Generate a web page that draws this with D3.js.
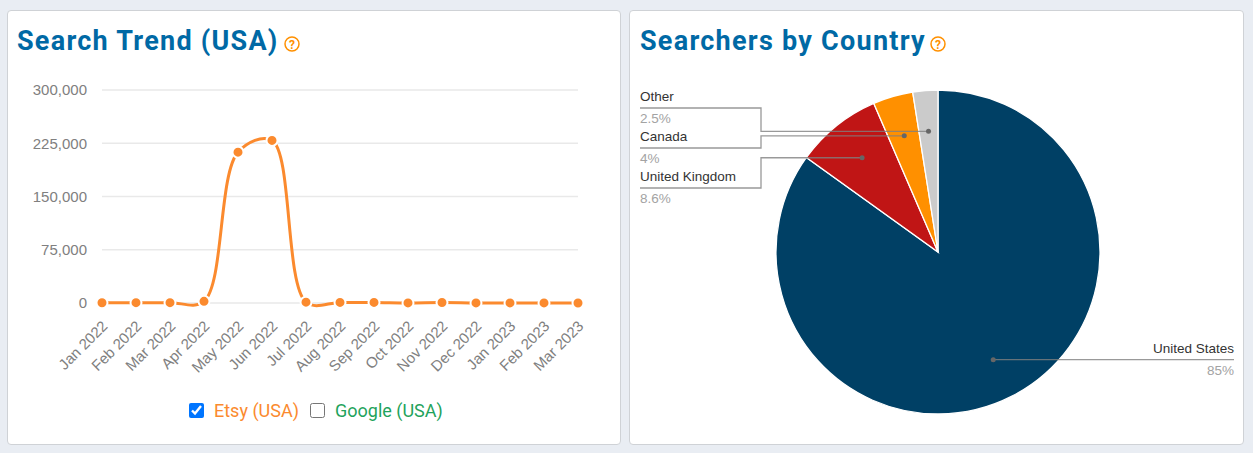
<!DOCTYPE html>
<html>
<head>
<meta charset="utf-8">
<script src="https://cdn.jsdelivr.net/npm/d3@7"></script>
<style>
  html, body { margin: 0; padding: 0; background: #e9edf3; overflow: hidden; }
  #stage { position: relative; width: 1253px; height: 453px; }
  .card { position: absolute; top: 9.5px; height: 435px; box-sizing: border-box; background: #fff;
          border: 1px solid #cfd2d6; border-radius: 4px; }
  svg { position: absolute; left: 0; top: 0; }
  .title { font-family: Roboto, sans-serif; font-weight: 700; font-size: 27px; letter-spacing: 1.25px; fill: #0069a5; }
  .help circle { fill: none; stroke: #ff9000; stroke-width: 1.5; }
  .help text { font-family: Roboto, sans-serif; font-size: 12px; font-weight: 700; fill: #ff9000; text-anchor: middle; }
  .axis text { font-family: "Liberation Sans", sans-serif; font-size: 15px; fill: #808080; }
  .axis path, .axis .tick line { display: none; }
  .grid line { stroke: #e9e9e9; stroke-width: 1.3; }
  .legend { position: absolute; top: 400px; font-family: Roboto, sans-serif; font-size: 18px; line-height: 22px; white-space: nowrap; }
  .legend input { position: absolute; left: 0; top: 3px; width: 15px; height: 15px; margin: 0; }
  .name { font-family: "Liberation Sans", sans-serif; font-size: 13.5px; fill: #333; }
  .pct { font-family: "Liberation Sans", sans-serif; font-size: 13.5px; fill: #a3a3a3; }
</style>
</head>
<body>
<div id="stage">
  <div class="card" style="left:7px;width:614px"></div>
  <div class="card" style="left:629px;width:615px"></div>
  <svg id="chart" width="1253" height="453"></svg>
</div>
<script>
const months = ["Jan 2022","Feb 2022","Mar 2022","Apr 2022","May 2022","Jun 2022","Jul 2022","Aug 2022","Sep 2022","Oct 2022","Nov 2022","Dec 2022","Jan 2023","Feb 2023","Mar 2023"]
const etsyValues = [300,500,500,2300,212500,229000,1200,800,800,100,700,100,100,100,0]
const yTicks = [0,75000,150000,225000,300000]

const countries = ["United States","United Kingdom","Canada","Other"]
const shares = [85,8.6,4,2.5]
const shareColors = ["#004065","#c01515","#ff9000","#cbcbcb"]

const legendNames = ["Etsy (USA)","Google (USA)"]
const legendColors = ["#fb8a2e","#1fa35c"]
const legendChecked = [true,false]

const svg = d3.select("#chart")

function title(text, x, helpX) {
    svg.append("text").attr("class","title").attr("x",x).attr("y",50).text(text)
    const help = svg.append("g").attr("class","help").attr("transform",`translate(${helpX},44)`)
    help.append("circle").attr("r",7)
    help.append("text").attr("y",4.5).text("?")
}
title("Search Trend (USA)", 17, 292)
title("Searchers by Country", 640, 938)

// line chart
const x = d3.scalePoint().domain(d3.range(months.length)).range([102,578])
const y = d3.scaleLinear().domain([0,300000]).range([303,90])

svg.append("g").attr("class","grid")
    .selectAll("line")
    .data(yTicks)
    .enter()
    .append("line")
    .attr("x1",x.range()[0])
    .attr("x2",x.range()[1])
    .attr("y1",d=>y(d))
    .attr("y2",d=>y(d))

svg.append("g").attr("class","axis")
    .attr("transform","translate(102,0)")
    .call(d3.axisLeft(y).tickValues(yTicks).tickSize(0).tickPadding(15).tickFormat(d3.format(",")))

svg.append("g").attr("class","axis")
    .attr("transform","translate(0,303)")
    .call(d3.axisBottom(x).tickSize(0).tickFormat(i=>months[i]))
    .selectAll("text")
    .attr("text-anchor","end")
    .attr("dy",0)
    .attr("y",0)
    .attr("transform","translate(6,24) rotate(-45)")

const lineGenerator = d3.line()
    .x((d,i)=>x(i))
    .y(d=>y(d))
    .curve(d3.curveCatmullRom.alpha(0.5))

svg.append("path")
    .attr("d",lineGenerator(etsyValues))
    .attr("fill","none")
    .attr("stroke",legendColors[0])
    .attr("stroke-width",3)

svg.append("g")
    .selectAll("circle")
    .data(etsyValues)
    .enter()
    .append("circle")
    .attr("cx",(d,i)=>x(i))
    .attr("cy",d=>y(d))
    .attr("r",5.5)
    .attr("fill",legendColors[0])
    .attr("stroke","#fff")
    .attr("stroke-width",2)

// legend, real checkboxes
const legendLeft = [189,310]
d3.select("#stage").selectAll("label")
    .data(legendNames)
    .enter()
    .append("label")
    .attr("class","legend")
    .style("left",(d,i)=>legendLeft[i]+"px")
    .style("padding-left","25px")
    .style("color",(d,i)=>legendColors[i])
    .each(function(d,i){
        d3.select(this).append("input").attr("type","checkbox").property("checked",legendChecked[i])
        d3.select(this).append("span").text(d)
    })

// pie
const pieData = d3.pie().sort(null).value(d=>d)(shares)
const radius = 162
const arc = d3.arc().innerRadius(0).outerRadius(radius)
const anchorArc = d3.arc().innerRadius(121).outerRadius(121)
const pieGroup = svg.append("g").attr("transform","translate(938,252)")

pieGroup.selectAll("path")
    .data(pieData)
    .enter()
    .append("path")
    .attr("d",arc)
    .attr("fill",(d,i)=>shareColors[i])
    .attr("stroke","#fff")
    .attr("stroke-width",1.3)

// labels: United States sits right of the pie, the others stacked on the left
const labelTop = 108
const labelStep = 40
const leftX = 640, elbowX = 761, rightX = 1234

pieData.forEach((d,i)=>{
    const [ax,ay] = anchorArc.centroid(d)
    const dotX = 938+ax, dotY = 252+ay
    const isRight = i === 0
    const rowY = isRight ? dotY : labelTop + labelStep*(countries.length-1-i)
    const points = isRight
        ? [[dotX,dotY],[rightX,dotY]]
        : [[dotX,dotY],[elbowX,dotY],[elbowX,rowY],[leftX,rowY]]

    svg.append("path")
        .attr("d",d3.line()(points))
        .attr("fill","none")
        .attr("stroke","#7f7f7f")
        .attr("stroke-opacity",0.8)
        .attr("stroke-width",1.3)
    svg.append("circle").attr("cx",dotX).attr("cy",dotY).attr("r",2.5).attr("fill","#666")

    const labelX = isRight ? rightX : leftX
    const anchor = isRight ? "end" : "start"
    svg.append("text").attr("class","name").attr("x",labelX).attr("y",rowY-7).attr("text-anchor",anchor).text(countries[i])
    svg.append("text").attr("class","pct").attr("x",labelX).attr("y",rowY+15).attr("text-anchor",anchor).text(shares[i]+"%")
})
</script>
</body>
</html>
